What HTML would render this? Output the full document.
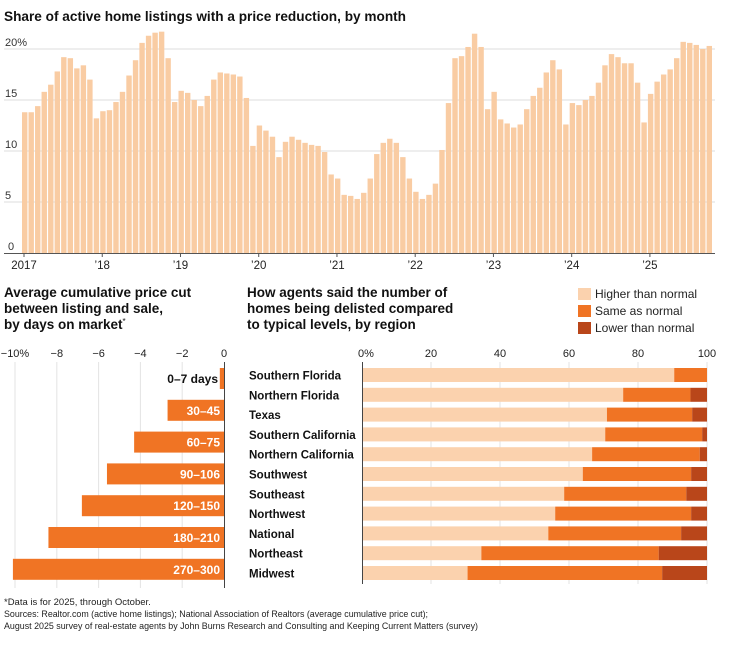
<!DOCTYPE html>
<html><head><meta charset="utf-8"><style>
html,body{margin:0;padding:0;background:#fff;}
svg{display:block;font-family:"Liberation Sans",sans-serif;}
</style></head><body>
<svg id="s" width="730" height="651" viewBox="0 0 730 651" xmlns="http://www.w3.org/2000/svg">
<text x="4" y="21" font-size="14" font-weight="bold" fill="#111" textLength="402" lengthAdjust="spacingAndGlyphs">Share of active home listings with a price reduction, by month</text>
<g id="gtop"></g>
<text x="4" y="297" font-size="13.5" font-weight="bold" fill="#111">Average cumulative price cut</text>
<text x="4" y="313" font-size="13.5" font-weight="bold" fill="#111">between listing and sale,</text>
<text x="4" y="329" font-size="13.5" font-weight="bold" fill="#111">by days on market<tspan font-size="8" dy="-5" font-weight="normal">*</tspan></text>
<text x="247" y="297" font-size="13.5" font-weight="bold" fill="#111">How agents said the number of</text>
<text x="247" y="313" font-size="13.5" font-weight="bold" fill="#111">homes being delisted compared</text>
<text x="247" y="329" font-size="13.5" font-weight="bold" fill="#111">to typical levels, by region</text>
<rect x="578" y="288" width="13" height="12" fill="#fbd2ae"/>
<rect x="578" y="305" width="13" height="12" fill="#f07424"/>
<rect x="578" y="322" width="13" height="12" fill="#b9461a"/>
<text x="595" y="298" font-size="12" fill="#222">Higher than normal</text>
<text x="595" y="315" font-size="12" fill="#222">Same as normal</text>
<text x="595" y="332" font-size="12" fill="#222">Lower than normal</text>
<g id="left"></g>
<g id="right"></g>
<g font-size="9.5" fill="#222">
<text x="4" y="605">*Data is for 2025, through October.</text>
<text x="4" y="617" textLength="424" lengthAdjust="spacingAndGlyphs">Sources: Realtor.com (active home listings); National Association of Realtors (average cumulative price cut);</text>
<text x="4" y="629" textLength="474" lengthAdjust="spacingAndGlyphs">August 2025 survey of real-estate agents by John Burns Research and Consulting and Keeping Current Matters (survey)</text>
</g>
</svg>
<script>
(function(){
var NS="http://www.w3.org/2000/svg";
function el(p,t,a,txt){var e=document.createElementNS(NS,t);for(var k in a)e.setAttribute(k,a[k]);if(txt!=null)e.textContent=txt;p.appendChild(e);return e;}
var gTop=document.getElementById("gtop");
var v=[13.8,13.8,14.4,15.8,16.5,17.8,19.2,19.1,18.1,18.4,17.0,13.2,
13.9,14.0,14.8,15.8,17.4,18.9,20.6,21.3,21.6,21.7,19.1,14.8,
15.9,15.7,15.0,14.4,15.4,17.0,17.7,17.6,17.5,17.3,15.2,10.5,
12.5,12.0,11.4,9.4,10.9,11.4,11.1,10.8,10.6,10.5,9.9,7.7,
7.3,5.7,5.6,5.3,5.9,7.3,9.7,10.8,11.2,10.8,9.4,7.3,
6.0,5.3,5.7,6.8,10.1,14.7,19.1,19.3,20.2,21.5,20.2,14.1,
15.8,13.1,12.7,12.3,12.6,14.1,15.4,16.2,17.7,18.9,18.0,12.6,
14.7,14.5,15.0,15.4,16.7,18.4,19.5,19.2,18.6,18.6,16.7,12.8,
15.6,16.8,17.5,18.0,19.1,20.7,20.6,20.4,20.0,20.3];
var y0=253,sc=10.2,x0=22,dx=6.52;
[5,10,15,20].forEach(function(g){el(gTop,"line",{x1:4,x2:715,y1:y0-g*sc,y2:y0-g*sc,stroke:"#ddd","stroke-width":1});
el(gTop,"text",{x:5,y:y0-g*sc-3,"font-size":11,fill:"#333"},g==20?"20%":g);});
el(gTop,"text",{x:8,y:y0-3,"font-size":11,fill:"#333"},"0");
v.forEach(function(d,i){el(gTop,"rect",{x:x0+i*dx,y:y0-d*sc,width:5.4,height:d*sc,fill:"#f9cca3"});});
el(gTop,"line",{x1:4,x2:715,y1:y0+0.5,y2:y0+0.5,stroke:"#555","stroke-width":1});
["2017","’18","’19","’20","’21","’22","’23","’24","’25"].forEach(function(l,i){var x=x0+i*12*dx+2;
el(gTop,"line",{x1:x,x2:x,y1:y0,y2:y0+4,stroke:"#555"});
el(gTop,"text",{x:x,y:y0+16,"font-size":11.5,fill:"#222","text-anchor":"middle"},l);});
var L=document.getElementById("left");var z=224,ps=20.9;
[-10,-8,-6,-4,-2].forEach(function(t){var x=z+t*ps;el(L,"line",{x1:x,x2:x,y1:362,y2:588,stroke:"#e3e3e3"});
el(L,"text",{x:x,y:357,"font-size":11,fill:"#222","text-anchor":"middle"},t==-10?"−10%":"−"+(-t));});
el(L,"text",{x:z,y:357,"font-size":11,fill:"#222","text-anchor":"middle"},"0");
var lb=[["0–7 days",-0.2],["30–45",-2.7],["60–75",-4.3],["90–106",-5.6],["120–150",-6.8],["180–210",-8.4],["270–300",-10.1]];
lb.forEach(function(d,i){var y=368+i*31.8;var w=-d[1]*ps;el(L,"rect",{x:z-w,y:y,width:w,height:21,fill:"#f07424"});
el(L,"text",{x:i==0?z-6:z-4,y:y+15,"font-size":12,"font-weight":"bold",fill:i==0?"#111":"#fff","text-anchor":"end"},d[0]);});
el(L,"line",{x1:z+0.5,x2:z+0.5,y1:362,y2:588,stroke:"#444"});
var R=document.getElementById("right");var rx=362,rs=3.45;
[0,20,40,60,80,100].forEach(function(t){var x=rx+t*rs;if(t>0)el(R,"line",{x1:x,x2:x,y1:362,y2:584,stroke:"#e3e3e3"});
el(R,"text",{x:t==0?x+4:x,y:357,"font-size":11,fill:"#222","text-anchor":"middle"},t==0?"0%":t);});
var rg=[["Southern Florida",90.5,100],["Northern Florida",75.7,95.2],["Texas",71,95.7],["Southern California",70.5,98.6],["Northern California",66.7,97.9],["Southwest",64,95.4],["Southeast",58.6,94],["Northwest",56,95.4],["National",54,92.5],["Northeast",34.6,86],["Midwest",30.6,87]];
rg.forEach(function(d,i){var y=368+i*19.8;
el(R,"rect",{x:rx,y:y,width:d[1]*rs,height:14,fill:"#fbd2ae"});
el(R,"rect",{x:rx+d[1]*rs,y:y,width:(d[2]-d[1])*rs,height:14,fill:"#f07424"});
if(d[2]<100)el(R,"rect",{x:rx+d[2]*rs,y:y,width:(100-d[2])*rs,height:14,fill:"#b9461a"});
el(R,"text",{x:249,y:y+11.5,"font-size":11.5,"font-weight":"bold",fill:"#111"},d[0]);});
el(R,"line",{x1:rx+0.5,x2:rx+0.5,y1:362,y2:584,stroke:"#444"});
})();
</script>
</body></html>
